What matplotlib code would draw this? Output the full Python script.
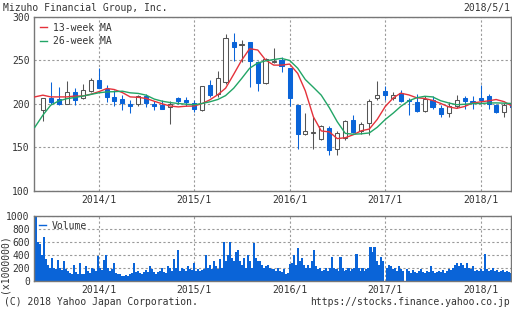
import numpy as np, matplotlib
matplotlib.use("Agg")
import matplotlib.pyplot as plt
import matplotlib.dates as mdates
import pandas as pd

# monthly candles, 2013/6 .. 2018/5
months = pd.date_range("2013-06-01", periods=60, freq="MS")
opens = [192.4, 207.3, 205.4, 200.4, 213.8, 207.3, 215.0, 227.0, 216.6, 208.0,
         205.8, 200.4, 199.6, 208.8, 200.4, 198.5, 195.8, 206.9, 204.2, 201.1,
         192.7, 221.2, 210.8, 225.4, 270.8, 268.0, 270.8, 248.5, 224.2, 248.6,
         250.4, 240.8, 198.5, 165.8, 166.5, 159.6, 172.7, 148.5, 161.2, 181.2,
         168.8, 177.4, 206.2, 214.6, 206.2, 212.0, 204.2, 202.3, 191.9, 205.0,
         195.4, 189.6, 197.0, 207.3, 203.4, 207.3, 208.9, 198.5, 190.8, 200.4]
highs = [207.0, 224.7, 219.6, 226.5, 217.7, 223.0, 230.0, 241.5, 221.5, 215.8,
         210.0, 205.0, 210.0, 211.0, 203.0, 204.0, 203.0, 208.0, 208.0, 204.0,
         221.0, 227.3, 237.7, 280.4, 281.9, 273.5, 271.0, 249.0, 253.0, 263.9,
         254.2, 241.0, 199.0, 188.9, 185.0, 176.2, 174.2, 168.8, 181.2, 187.0,
         179.2, 205.4, 226.2, 220.4, 213.1, 215.8, 207.3, 211.2, 209.2, 208.9,
         198.5, 201.6, 210.0, 208.8, 208.9, 221.5, 211.2, 199.5, 201.1, 201.0]
lows = [180.0, 200.4, 198.5, 199.5, 199.0, 206.0, 214.0, 217.7, 202.3, 197.7,
        192.7, 189.0, 197.0, 196.5, 192.7, 193.5, 177.3, 200.4, 197.3, 190.8,
        191.5, 208.0, 208.0, 222.7, 249.2, 247.7, 219.6, 215.0, 222.3, 246.6,
        236.2, 197.3, 148.5, 163.9, 148.5, 158.9, 141.6, 141.6, 158.9, 166.5,
        165.0, 163.9, 204.2, 204.2, 205.0, 202.3, 187.0, 190.8, 191.0, 193.5,
        185.0, 185.0, 195.4, 194.6, 194.6, 200.4, 194.6, 188.9, 185.0, 195.8]
closes = [206.2, 202.3, 200.4, 213.1, 204.2, 215.4, 228.0, 218.5, 208.0, 203.4,
          201.1, 197.3, 208.8, 201.1, 197.3, 194.6, 200.4, 203.4, 202.3, 193.5,
          220.4, 210.0, 229.3, 275.4, 265.0, 268.8, 249.2, 223.5, 251.2, 249.6,
          243.8, 206.2, 165.8, 168.5, 167.3, 174.2, 147.3, 167.0, 180.0, 167.7,
          176.6, 203.1, 210.0, 210.0, 209.7, 203.4, 203.4, 191.9, 205.4, 196.0,
          188.5, 197.3, 205.0, 203.4, 202.7, 204.2, 199.3, 190.8, 198.5, 195.8]

# moving averages read at month starts, 2013/5 .. 2018/5
ma_months = pd.date_range("2013-05-01", periods=61, freq="MS")
ma13 = [208, 210, 208, 208, 208, 209, 209, 211, 214, 217.7,
        216.5, 213, 208, 207.5, 206.2, 203, 200, 197.5, 196.5, 197.3,
        197.5, 200.4, 204.5, 210.5, 218, 234, 250, 263.5, 262, 250.5,
        244.6, 244.6, 245.8, 235, 215, 185, 168.8, 167.7, 160, 161,
        164.5, 169, 171, 182, 197, 207, 212.3, 210.3, 207, 206.2,
        204, 200.5, 196.5, 194.8, 197, 201, 202.3, 203.5, 205, 202.5, 197.3]
ma26 = [173, 187, 198.5, 203.4, 206, 207.3, 209, 210.8, 212.7, 213.8,
        214, 214.6, 212.7, 212, 210, 205.5, 203, 201.5, 200.4, 199.6,
        199, 200.5, 202.3, 205, 209.5, 218, 229, 241, 247, 249.5,
        251, 252.3, 250, 241, 228, 219, 210, 195.5, 179.5, 166,
        165, 165.5, 166.5, 173, 182, 189.5, 197, 203.5, 207, 208.7,
        208, 203.6, 201, 199, 199.5, 200.4, 200.4, 201, 201.1, 200.8, 200.4]

# volume (x1000000), read roughly every couple of pixels across the panel
vol = [330, 1000, 600, 570, 400, 670, 330, 250, 200, 350, 200, 180, 320, 200, 170,
       300, 180, 150, 120, 100, 250, 130, 100, 270, 110, 100, 230, 150, 120, 200,
       180, 150, 380, 200, 160, 320, 400, 200, 150, 180, 280, 120, 100, 100, 80,
       70, 90, 80, 100, 120, 280, 130, 150, 120, 110, 140, 160, 130, 220, 180,
       130, 100, 130, 150, 200, 140, 120, 220, 200, 150, 330, 200, 470, 150, 200,
       180, 150, 220, 180, 170, 270, 150, 180, 150, 170, 180, 400, 200, 250, 180,
       300, 220, 180, 330, 190, 600, 300, 400, 600, 350, 300, 450, 480, 300, 250,
       350, 200, 400, 300, 200, 580, 350, 300,
       300, 250, 200, 220, 250, 200, 180, 180, 150, 200, 150, 140, 180, 100, 120,
       260, 280, 400, 250, 500, 300, 350, 250, 200, 250, 200, 300, 480, 220, 180,
       200, 150, 170, 200, 150, 200, 370, 200, 180, 150, 370, 200, 150, 170, 200,
       150, 180, 200, 420, 200, 150, 200, 150, 180, 200, 520, 450, 520, 300, 250,
       370, 300, 0, 200, 250, 220, 180, 200, 150, 230, 180, 150, 0, 180, 150,
       120, 160, 140, 120, 150, 180, 130, 120, 150, 140, 230, 150, 120, 130, 150,
       140, 160, 120, 150, 180, 160, 200, 250, 270, 220, 280, 250, 200, 270, 200,
       180, 220, 150, 170, 150, 180, 150, 410, 180, 150, 160, 200, 150, 170, 140,
       150, 160, 140, 150, 130, 120]
vol_dates = pd.date_range("2013-04-28", "2018-04-26", periods=len(vol))

BLUE = "#0a64d8"; RED = "#e5323b"; GREEN = "#22a566"
GRID = "#9a9a9a"; EDGE = "#555555"; TXT = "#333333"; SPINE = "#777777"
FS = 7.0

plt.rcParams["font.family"] = ["DejaVu Sans Mono"]
plt.rcParams["font.size"] = FS
plt.rcParams["text.color"] = TXT

fig = plt.figure(figsize=(5.12, 3.10), dpi=100)
ax = fig.add_axes([34/512, 1-190.7/310, 477/512, 173.7/310])
av = fig.add_axes([34/512, 1-280.7/310, 477/512, 64.7/310])

o, h, l, c = map(np.array, (opens, highs, lows, closes))
up = c >= o
fc = np.where(up, "white", BLUE)
ec = np.where(up, EDGE, BLUE)
ax.vlines(months, l, h, colors=ec, lw=0.75, zorder=2)
ax.bar(months, np.maximum(np.abs(c-o), 0.8), bottom=np.minimum(o, c), width=16,
       color=fc, edgecolor=ec, lw=0.75, zorder=3)
ax.plot(ma_months, ma13, color=RED, lw=1, label="13-week MA", zorder=4)
ax.plot(ma_months, ma26, color=GREEN, lw=1, label="26-week MA", zorder=4)
ax.legend(loc="upper left", frameon=False, handlelength=0.75, handletextpad=0.6,
          labelspacing=0.35, borderaxespad=0.4, borderpad=0.2)

av.bar(vol_dates, vol, width=7.9, color=BLUE, lw=0)
av.legend(handles=[plt.Line2D([], [], color=BLUE, lw=1)], labels=["Volume"],
          loc="upper left", frameon=False, handlelength=0.75, handletextpad=0.6,
          borderaxespad=0.3, borderpad=0.2)

xmin, xmax = pd.Timestamp("2013-04-28"), pd.Timestamp("2018-04-27")
for a, yl, yt in ((ax, (100, 300), [100, 150, 200, 250, 300]),
                  (av, (0, 1000), [0, 200, 400, 600, 800, 1000])):
    a.set_xlim(xmin, xmax)
    a.set_ylim(*yl)
    a.set_yticks(yt)
    a.xaxis.set_major_locator(mdates.YearLocator())
    a.xaxis.set_major_formatter(mdates.DateFormatter("%Y/%-m"))
    a.tick_params(length=0, pad=3, labelcolor=TXT, labelsize=FS)
    a.grid(True, ls=(0, (2, 2)), color=GRID, lw=0.8)
    a.set_axisbelow(True)
    for s in a.spines.values():
        s.set_color(SPINE); s.set_linewidth(1)

fig.text(3/512, 1-8/310, "Mizuho Financial Group, Inc.", ha="left", va="center")
fig.text(510/512, 1-8/310, "2018/5/1", ha="right", va="center")
fig.text(5/512, 1-264/310, "(x1000000)", rotation=90, ha="center", va="center")
fig.text(4/512, 1-302/310, "(C) 2018 Yahoo Japan Corporation.", ha="left", va="center")
fig.text(510/512, 1-302/310, "https://stocks.finance.yahoo.co.jp", ha="right", va="center")

fig.savefig("out.png", dpi=100)
